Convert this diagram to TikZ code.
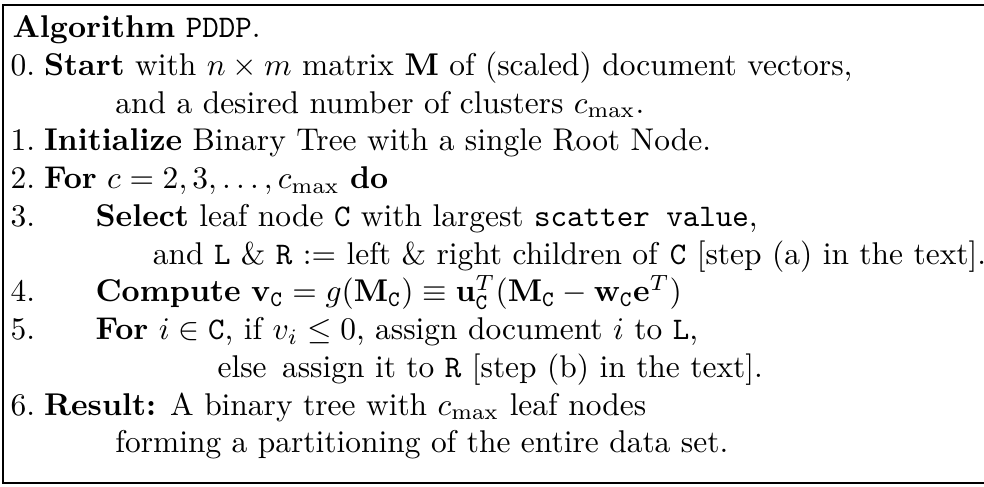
\documentclass[tikz,border=0pt]{standalone}
\usetikzlibrary{positioning}

\begin{document}
\begin{tikzpicture}[
  x=1pt, y=-1pt,
  num/.style={anchor=base west, inner sep=0pt},
  txt/.style={anchor=base west, inner sep=0pt},
  frame/.style={draw=black, line width=0.6pt}
]
  \useasboundingbox (0,0) rectangle (312.9,154.85);
  \draw[frame] (316,1.6) -- (0.95,1.6) -- (0.95,153.6) -- (316,153.6);

  \node[txt] (title) at (3.8,12) {\textbf{Algorithm} \texttt{PDDP}.};

  \node[num] (n0) at (3.2,24) {0.};
  \node[txt] (start) at (13.8,24) {\textbf{Start} with $n\times m$ matrix $\mathbf{M}$ of (scaled) document vectors,};
  \node[txt] (start2) at (36.5,36) {and a desired number of clusters $c_{\max}$.};

  \node[num] (n1) at (3.2,48) {1.};
  \node[txt] (init) at (13.8,48) {\textbf{Initialize} Binary Tree with a single Root Node.};

  \node[num] (n2) at (3.2,60) {2.};
  \node[txt] (loop) at (13.8,60) {\textbf{For} $c=2,3,\ldots,c_{\max}$ \textbf{do}};

  \node[num] (n3) at (3.2,72) {3.};
  \node[txt] (select) at (30.2,72) {\textbf{Select} leaf node \texttt{C} with largest \texttt{scatter value},};
  \node[txt] (select2) at (48.4,84) {and \texttt{L} \& \texttt{R} $:=$ left \& right children of \texttt{C} [step (a) in the text].};

  \node[num] (n4) at (3.2,96) {4.};
  \node[txt] (compute) at (30.2,96) {\textbf{Compute} $\mathbf{v}_{\mathtt{C}}=g(\mathbf{M}_{\mathtt{C}})\equiv\mathbf{u}_{\mathtt{C}}^T(\mathbf{M}_{\mathtt{C}}-\mathbf{w}_{\mathtt{C}}\mathbf{e}^T)$};

  \node[num] (n5) at (3.2,108) {5.};
  \node[txt] (assign) at (30.2,108) {\textbf{For} $i\in\mathtt{C}$, if $v_i\le 0$, assign document $i$ to \texttt{L},};
  \node[txt] (else) at (69,120) {else};
  \node[txt] (assign2) at (89.5,120) {assign it to \texttt{R} [step (b) in the text].};

  \node[num] (n6) at (3.2,132) {6.};
  \node[txt] (result) at (13.8,132) {\textbf{Result:} A binary tree with $c_{\max}$ leaf nodes};
  \node[txt] (result2) at (36.5,144) {forming a partitioning of the entire data set.};
\end{tikzpicture}
\end{document}
